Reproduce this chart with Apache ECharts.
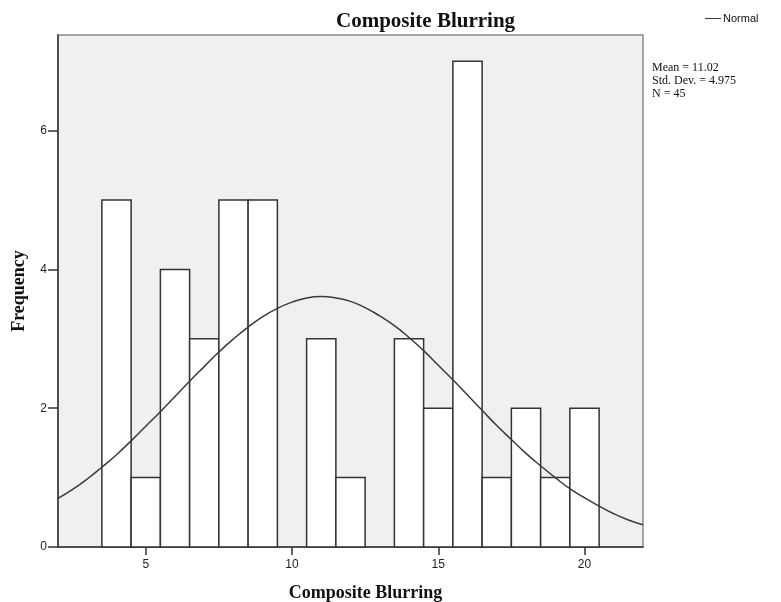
<!DOCTYPE html>
<html>
<head>
<meta charset="utf-8">
<title>Composite Blurring</title>
<script src="https://cdn.jsdelivr.net/npm/echarts@6/dist/echarts.min.js"></script>
<style>
  html, body { margin: 0; padding: 0; background: #fff; }
  #chart { width: 781px; height: 602px; }
</style>
</head>
<body>
<div id="chart"></div>
<script>
  // histogram bins (bin centre, width 1) and frequencies
  var binCenters = [4, 5, 6, 7, 8, 9, 10, 11, 12, 13, 14, 15, 16, 17, 18, 19, 20];
  var frequencies = [5, 1, 4, 3, 5, 5, 0, 3, 1, 0, 3, 2, 7, 1, 2, 1, 2];

  // normal curve, values every half unit
  var curveX = [2, 2.5, 3, 3.5, 4, 4.5, 5, 5.5, 6, 6.5, 7, 7.5, 8, 8.5, 9, 9.5, 10, 10.5, 11, 11.5,
                12, 12.5, 13, 13.5, 14, 14.5, 15, 15.5, 16, 16.5, 17, 17.5, 18, 18.5, 19, 19.5, 20, 20.5, 21, 21.5, 22];
  var curveY = [0.70, 0.83, 0.98, 1.15, 1.33, 1.53, 1.74, 1.95, 2.17, 2.39, 2.60, 2.81, 3.00, 3.17, 3.32, 3.44, 3.53, 3.59, 3.61, 3.59,
                3.54, 3.45, 3.33, 3.19, 3.02, 2.83, 2.62, 2.41, 2.19, 1.97, 1.75, 1.55, 1.35, 1.17, 1.00, 0.84, 0.71, 0.59, 0.48, 0.39, 0.32];

  var xTicks = [5, 10, 15, 20];
  var yTicks = [0, 2, 4, 6];
  var statsLines = ['Mean = 11.02', 'Std. Dev. = 4.975', 'N = 45'];

  var barData = [];
  for (var i = 0; i < binCenters.length; i++) {
    if (frequencies[i] > 0) barData.push([binCenters[i], frequencies[i]]);
  }
  var curveData = curveX.map(function (x, i) { return [x, curveY[i]]; });

  var chart = echarts.init(document.getElementById('chart'));
  chart.setOption({
    animation: false,
    backgroundColor: '#ffffff',
    title: {
      text: 'Composite Blurring',
      left: 331,
      top: 6,
      textStyle: { fontFamily: 'Liberation Serif', fontWeight: 'bold', fontSize: 21, color: '#111' }
    },
    legend: {
      data: ['Normal'],
      left: 700,
      top: 8,
      icon: 'rect',
      itemWidth: 16,
      itemHeight: 1,
      itemGap: 2,
      textStyle: { fontFamily: 'Liberation Sans', fontSize: 11, color: '#111', padding: [0, 0, 0, -3] }
    },
    graphic: [{
      type: 'text',
      left: 652,
      top: 61,
      style: {
        text: statsLines.join('\n'),
        font: '12px "Liberation Serif"',
        lineHeight: 13,
        fill: '#111'
      }
    }],
    grid: {
      left: 58, right: 138, top: 35, bottom: 55,
      outerBoundsMode: 'none',
      show: true,
      backgroundColor: '#f0f0f0',
      borderColor: '#8a8a8a',
      borderWidth: 1.5
    },
    xAxis: {
      type: 'value',
      min: 2,
      max: 22,
      name: 'Composite Blurring',
      nameLocation: 'middle',
      nameGap: 37,
      nameTextStyle: { fontFamily: 'Liberation Serif', fontWeight: 'bold', fontSize: 18, color: '#111', padding: [0, 0, 0, 30] },
      splitLine: { show: false },
      axisLine: { lineStyle: { color: '#333', width: 1.5 } },
      axisTick: { customValues: xTicks, length: 8, lineStyle: { color: '#333', width: 1.5 } },
      axisLabel: { customValues: xTicks, fontFamily: 'Liberation Sans', fontSize: 12, color: '#222', margin: 12 }
    },
    yAxis: {
      type: 'value',
      min: 0,
      max: 7.38,
      name: 'Frequency',
      nameLocation: 'middle',
      nameGap: 30,
      nameTextStyle: { fontFamily: 'Liberation Serif', fontWeight: 'bold', fontSize: 18, color: '#111' },
      splitLine: { show: false },
      axisLine: { lineStyle: { color: '#333', width: 1.5 } },
      axisTick: { customValues: yTicks, length: 10, lineStyle: { color: '#333', width: 1.5 } },
      axisLabel: { customValues: yTicks, fontFamily: 'Liberation Sans', fontSize: 12, color: '#222', margin: 11 }
    },
    series: [
      {
        name: 'Histogram',
        type: 'custom',
        data: barData,
        renderItem: function (params, api) {
          var x = api.value(0), y = api.value(1);
          var p0 = api.coord([x - 0.5, y]);
          var p1 = api.coord([x + 0.5, 0]);
          return {
            type: 'rect',
            shape: { x: p0[0], y: p0[1], width: p1[0] - p0[0], height: p1[1] - p0[1] },
            style: { fill: '#ffffff', stroke: '#333', lineWidth: 1.5 }
          };
        },
        z: 2
      },
      {
        name: 'Normal',
        type: 'line',
        data: curveData,
        smooth: true,
        showSymbol: false,
        lineStyle: { color: '#3a3a3a', width: 1.5 },
        itemStyle: { color: '#3a3a3a' },
        z: 3
      }
    ]
  });
</script>
</body>
</html>
